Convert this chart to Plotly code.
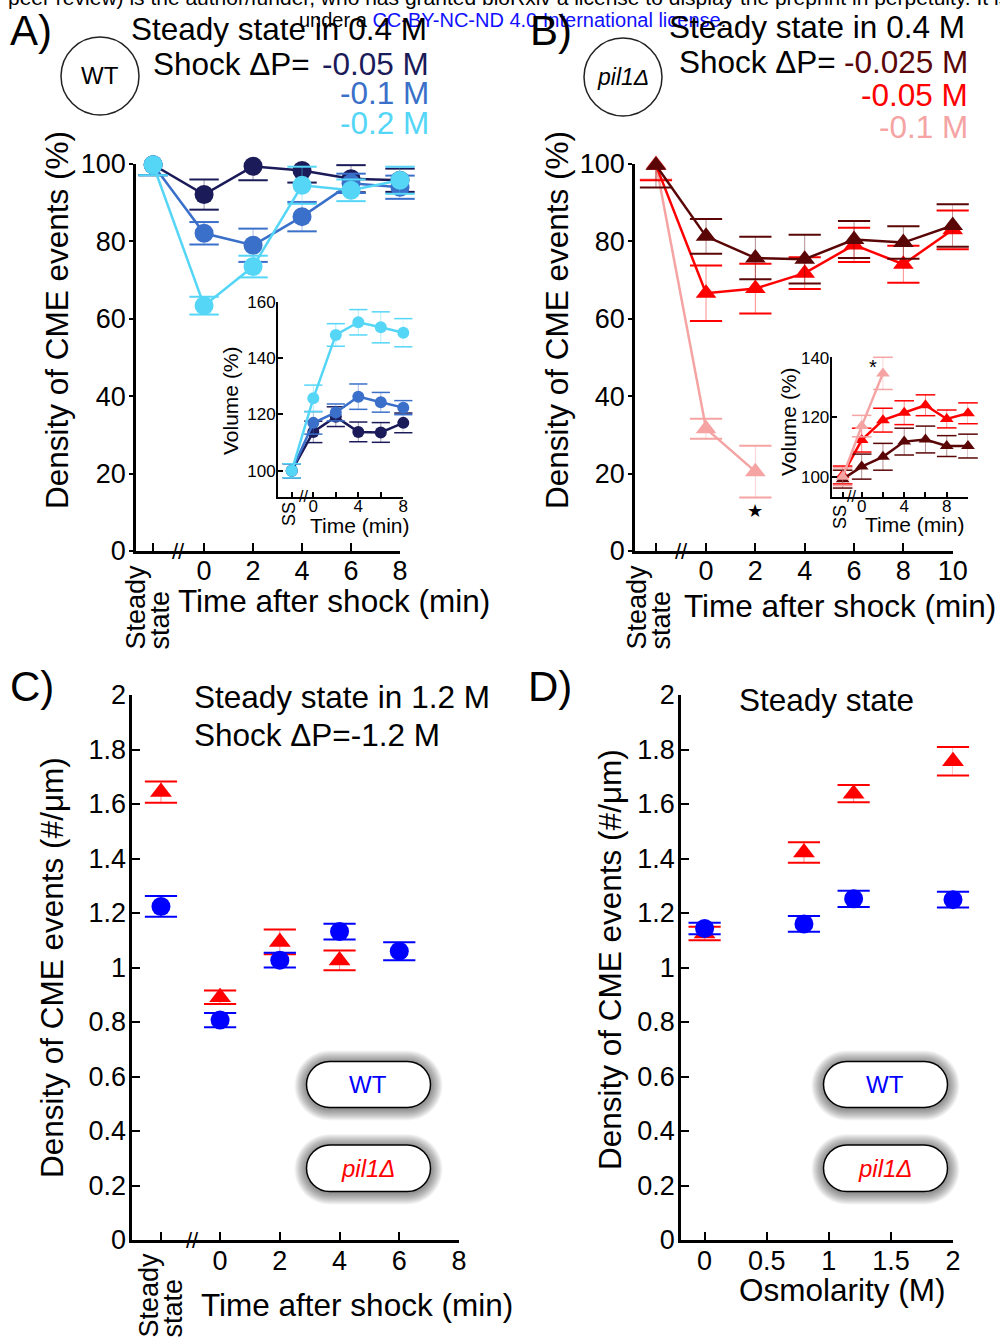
import plotly.graph_objects as go

W, H = 1000, 1338
FONT = "Liberation Sans, Arial, Helvetica, sans-serif"
SS = "Steady state"

# ---------------- DATA ----------------
# Panel A (WT) - density of CME events (%) after hypo-osmotic shock
a_time = [SS, 0, 2, 4, 6, 8]
a_m005 = [99.8, 92.1, 99.4, 98.3, 96.2, 95.8]
a_m005_err = [2.7, 3.9, 3.6, 3.1, 3.5, 3.0]
a_m01 = [99.8, 82.1, 79.0, 86.4, 95.0, 94.0]
a_m01_err = [2.7, 2.9, 4.3, 3.8, 2.5, 3.0]
a_m02 = [99.8, 63.4, 73.5, 94.5, 93.2, 95.8]
a_m02_err = [2.7, 2.3, 2.8, 4.8, 2.8, 3.5]

# Panel A inset (WT) - volume (%)
ai_time = [SS, 0, 2, 4, 6, 8]
ai_m005 = [100.0, 113.8, 119.2, 113.8, 113.6, 117.0]
ai_m005_err = [2.5, 3.8, 3.5, 3.5, 3.5, 3.5]
ai_m01 = [100.0, 117.0, 120.7, 126.3, 124.3, 122.4]
ai_m01_err = [2.5, 4.0, 3.0, 4.5, 3.5, 2.5]
ai_m02 = [100.0, 125.7, 148.2, 152.7, 150.9, 149.0]
ai_m02_err = [2.5, 4.7, 4.0, 4.5, 5.5, 5.0]

# Panel B (pil1Δ) - density of CME events (%)
b_time = [SS, 0, 2, 4, 6, 8, 10]
b_m0025 = [99.7, 81.3, 75.7, 75.4, 80.5, 79.7, 84.1]
b_m0025_err = [5.8, 4.5, 5.5, 6.3, 4.8, 4.2, 5.5]
b_m005 = [99.7, 66.6, 67.8, 71.8, 79.1, 74.1, 83.0]
b_m005_err = [3.9, 7.2, 6.4, 4.1, 4.4, 4.8, 5.0]
b_time_m01 = [SS, 0, 2]
b_m01 = [100.0, 31.6, 20.5]
b_m01_err = [4.0, 2.6, 6.7]
b_star = [(2, 10.5)]

# Panel B inset (pil1Δ) - volume (%)
bi_time = [SS, 0, 2, 4, 6, 8, 10]
bi_m0025 = [99.2, 103.4, 106.7, 111.8, 112.5, 110.3, 110.3]
bi_m0025_err = [3.0, 4.2, 4.5, 4.5, 4.5, 3.5, 4.0]
bi_m005 = [100.6, 112.3, 119.0, 121.5, 124.0, 119.4, 121.3]
bi_m005_err = [3.0, 4.0, 4.0, 4.0, 3.5, 3.0, 3.5]
bi_time_m01 = [SS, 0, 2]
bi_m01 = [100.0, 117.0, 134.7]
bi_m01_err = [3.0, 3.6, 5.4]
bi_star = [(1.1, 137.0)]

# Panel C - density (#/µm), steady state in 1.2 M, shock -1.2 M
c_time_wt = [SS, 0, 2, 4, 6]
c_wt = [1.224, 0.807, 1.027, 1.132, 1.060]
c_wt_err = [0.038, 0.026, 0.027, 0.029, 0.033]
c_time_pil = [SS, 0, 2, 4]
c_pil = [1.644, 0.891, 1.094, 1.026]
c_pil_err = [0.039, 0.025, 0.045, 0.036]

# Panel D - steady-state density vs osmolarity
d_osm = [0, 0.8, 1.2, 2.0]
d_wt = [1.143, 1.160, 1.252, 1.249]
d_wt_err = [0.021, 0.029, 0.030, 0.029]
d_pil = [1.125, 1.422, 1.638, 1.757]
d_pil_err = [0.025, 0.038, 0.032, 0.052]

# Tick labels
pct_ticks = [0, 20, 40, 60, 80, 100]
dens_ticks = [0, 0.2, 0.4, 0.6, 0.8, 1, 1.2, 1.4, 1.6, 1.8, 2]
dens_ticktext = ["0", "0.2", "0.4", "0.6", "0.8", "1", "1.2", "1.4", "1.6", "1.8", "2"]
osm_ticks = [0, 0.5, 1, 1.5, 2]
osm_ticktext = ["0", "0.5", "1", "1.5", "2"]

# ---------------- STYLE ----------------
NAVY = "#1b1b5a"
MID = "#3a70c9"
CYAN = "#55d6f7"
MAROON = "#5a0606"
RED = "#ff0000"
PINK = "#f5a3a3"
BLUE = "#0000ff"

# position of the "steady state" category on each time axis
SS_POS = {"x": -2.08, "x2": -1.92, "x3": -2.03, "x4": -1.79, "x5": -1.98}
BREAK_POS = {"x": -1.06, "x2": -0.83, "x3": -1.01, "x4": -0.94, "x5": -0.94}


def rgba(hexc, a):
    h = hexc.lstrip("#")
    r, g, b = int(h[0:2], 16), int(h[2:4], 16), int(h[4:6], 16)
    return f"rgba({r},{g},{b},{a})"


def py2paper(py):
    return 1 - py / H


fig = go.Figure()


def series(xref, yref, t, y, e, color, symbol, size, capsize, lines=True, lw=2.5, capw=2):
    xs = [SS_POS[xref] if v == SS else v for v in t]
    fig.add_trace(go.Scatter(
        x=xs, y=y, xaxis=xref, yaxis=yref,
        mode="lines+markers" if lines else "markers",
        line=dict(color=color, width=lw),
        marker=dict(color=color, symbol=symbol, size=size, line=dict(width=0)),
        error_y=dict(type="data", array=e, width=0, thickness=1, color=rgba(color, 0.45)),
        cliponaxis=False, hoverinfo="skip", showlegend=False))
    fig.add_trace(go.Scatter(
        x=xs + xs,
        y=[a + b for a, b in zip(y, e)] + [a - b for a, b in zip(y, e)],
        xaxis=xref, yaxis=yref, mode="markers",
        marker=dict(symbol="line-ew", size=capsize, color=color, line=dict(color=color, width=capw)),
        cliponaxis=False, hoverinfo="skip", showlegend=False))


# Panel A main
series("x", "y", a_time, a_m005, a_m005_err, NAVY, "circle", 19, 21)
series("x", "y", a_time, a_m01, a_m01_err, MID, "circle", 19, 21)
series("x", "y", a_time, a_m02, a_m02_err, CYAN, "circle", 19, 21)
# Panel A inset
series("x2", "y2", ai_time, ai_m005, ai_m005_err, NAVY, "circle", 12, 13, lw=2.5, capw=1.5)
series("x2", "y2", ai_time, ai_m01, ai_m01_err, MID, "circle", 12, 13, lw=2.5, capw=1.5)
series("x2", "y2", ai_time, ai_m02, ai_m02_err, CYAN, "circle", 12, 13, lw=2.5, capw=1.5)
# Panel B main
series("x3", "y3", b_time_m01, b_m01, b_m01_err, PINK, "triangle-up", 18, 23)
series("x3", "y3", b_time, b_m005, b_m005_err, RED, "triangle-up", 18, 23)
series("x3", "y3", b_time, b_m0025, b_m0025_err, MAROON, "triangle-up", 18, 23)
# Panel B inset
series("x4", "y4", bi_time, bi_m005, bi_m005_err, RED, "triangle-up", 12, 14, lw=2.5, capw=1.5)
series("x4", "y4", bi_time, bi_m0025, bi_m0025_err, MAROON, "triangle-up", 12, 14, lw=2.5, capw=1.5)
series("x4", "y4", bi_time_m01, bi_m01, bi_m01_err, PINK, "triangle-up", 12, 14, lw=2.5, capw=1.5)
# Panel C
series("x5", "y5", c_time_pil, c_pil, c_pil_err, RED, "triangle-up", 19, 23, lines=False)
series("x5", "y5", c_time_wt, c_wt, c_wt_err, BLUE, "circle", 19, 23, lines=False)


# Panel D
def series_d(x, y, e, color, symbol):
    fig.add_trace(go.Scatter(
        x=x, y=y, xaxis="x6", yaxis="y6", mode="markers",
        marker=dict(color=color, symbol=symbol, size=19),
        error_y=dict(type="data", array=e, width=0, thickness=1, color=rgba(color, 0.45)),
        cliponaxis=False, hoverinfo="skip", showlegend=False))
    fig.add_trace(go.Scatter(
        x=list(x) + list(x),
        y=[a + b for a, b in zip(y, e)] + [a - b for a, b in zip(y, e)],
        xaxis="x6", yaxis="y6", mode="markers",
        marker=dict(symbol="line-ew", size=23, color=color, line=dict(color=color, width=2)),
        cliponaxis=False, hoverinfo="skip", showlegend=False))


series_d(d_osm, d_pil, d_pil_err, RED, "triangle-up")
series_d(d_osm, d_wt, d_wt_err, BLUE, "circle")


# ---------------- AXES ----------------
def xaxis(dom, rng, anchor, tv, tt, size=27, lw=2.5, tl=8, so=-6):
    return dict(domain=dom, range=rng, anchor=anchor, showgrid=False, zeroline=False,
                showline=True, linecolor="black", linewidth=lw, ticks="inside", ticklen=tl,
                tickwidth=2, tickcolor="black", tickvals=tv, ticktext=tt, ticklabelstandoff=so,
                tickfont=dict(size=size, color="black", family=FONT), fixedrange=True)


def yaxis(dom, rng, anchor, tv, tt, size=27, lw=2.5, ticks="inside", tl=8, so=-2):
    return dict(domain=dom, range=rng, anchor=anchor, showgrid=False, zeroline=False,
                showline=True, linecolor="black", linewidth=lw, ticks=ticks, ticklen=tl,
                tickwidth=2, tickcolor="black", tickvals=tv, ticktext=tt, ticklabelstandoff=so,
                tickfont=dict(size=size, color="black", family=FONT), fixedrange=True)


def time_ticks(xref, times, labels=None):
    tv = [SS_POS[xref]] + list(times)
    tt = [""] + [str(t) if (labels is None or t in labels) else "" for t in times]
    return tv, tt


tvA, ttA = time_ticks("x", [0, 2, 4, 6, 8])
tvA2, ttA2 = time_ticks("x2", [0, 2, 4, 6, 8], labels=[0, 4, 8])
tvB, ttB = time_ticks("x3", [0, 2, 4, 6, 8, 10])
tvB2, ttB2 = time_ticks("x4", [0, 2, 4, 6, 8, 10], labels=[0, 4, 8])
tvC, ttC = time_ticks("x5", [0, 2, 4, 6, 8])

yA_dom = [py2paper(551), py2paper(164)]
yC_dom = [py2paper(1240), py2paper(695)]

fig.update_layout(
    width=W, height=H, autosize=False,
    margin=dict(l=0, r=0, t=0, b=0, pad=0, autoexpand=False),
    paper_bgcolor="white", plot_bgcolor="rgba(0,0,0,0)",
    font=dict(family=FONT, color="black"),
    hovermode=False, showlegend=False,
    xaxis=xaxis([0.136, 0.400], [-2.78, 8], "y", tvA, ttA),
    yaxis=yaxis(yA_dom, [0, 100], "x", pct_ticks, [str(v) for v in pct_ticks], ticks="outside", tl=4),
    xaxis2=xaxis([0.278, 0.4033], [-3.14, 8], "y2", tvA2, ttA2, size=17, lw=2, tl=5, so=-7),
    yaxis2=yaxis([py2paper(496.7), py2paper(301.7)], [90.8, 160], "x2",
                 [100, 120, 140, 160], ["100", "120", "140", "160"], size=17, lw=2, tl=5, so=-3),
    xaxis3=xaxis([0.635, 0.9527], [-2.88, 10], "y3", tvB, ttB),
    yaxis3=yaxis(yA_dom, [0, 100], "x3", pct_ticks, [str(v) for v in pct_ticks], ticks="outside", tl=4),
    xaxis4=xaxis([0.8317, 0.968], [-2.82, 10], "y4", tvB2, ttB2, size=17, lw=2, tl=5, so=-7),
    yaxis4=yaxis([py2paper(496.7), py2paper(356.7)], [93.3, 140.3], "x4",
                 [100, 120, 140], ["100", "120", "140"], size=17, lw=2, tl=5, so=-3),
    xaxis5=xaxis([0.1323, 0.459], [-2.94, 8], "y5", tvC, ttC, so=-5),
    yaxis5=yaxis(yC_dom, [0, 2], "x5", dens_ticks, dens_ticktext),
    xaxis6=xaxis([0.681, 0.953], [-0.19, 2.0], "y6", osm_ticks, osm_ticktext, so=-5),
    yaxis6=yaxis(yC_dom, [0, 2], "x6", dens_ticks, dens_ticktext),
)

# ---------------- ANNOTATIONS ----------------
ann = []


def txt(text, px, py, size, color="black", xanchor="center", yanchor="middle", angle=0):
    ann.append(dict(text=text, x=px / W, y=py2paper(py), xref="paper", yref="paper",
                    xanchor=xanchor, yanchor=yanchor, textangle=angle, showarrow=False,
                    font=dict(size=size, color=color, family=FONT)))


# watermark lines
txt("peer review) is the author/funder, who has granted bioRxiv a license to display the preprint in perpetuity. It is made available",
    6, -2, 21, xanchor="left")
txt("under a <span style='color:#1010ff'>CC-BY-NC-ND 4.0 International license</span>.", 297, 20, 20, xanchor="left")

# panel letters
txt("A)", 8, 31, 42, xanchor="left")
txt("B)", 528, 31, 42, xanchor="left")
txt("C)", 8, 686, 42, xanchor="left")
txt("D)", 526, 686, 42, xanchor="left")

# Panel A header
txt("Steady state in 0.4 M", 129, 29, 31.5, xanchor="left")
txt("Shock \u0394P=", 151, 64, 31.5, xanchor="left")
txt("-0.05 M", 431, 64, 31.5, NAVY, xanchor="right")
txt("-0.1 M", 431, 93, 31.5, MID, xanchor="right")
txt("-0.2 M", 431, 123, 31.5, CYAN, xanchor="right")
txt("WT", 100, 76, 24)

# Panel B header
txt("Steady state in 0.4 M", 667, 27, 31.5, xanchor="left")
txt("Shock \u0394P=", 677, 62, 31.5, xanchor="left")
txt("-0.025 M", 970, 62, 31.5, MAROON, xanchor="right")
txt("-0.05 M", 970, 95, 31.5, RED, xanchor="right")
txt("-0.1 M", 970, 127, 31.5, PINK, xanchor="right")
txt("<i>pil1\u0394</i>", 623, 77, 23)

# axis titles A/B
txt("Density of CME events (%)", 57, 320, 31.5, angle=-90)
txt("Density of CME events (%)", 557, 320, 31.5, angle=-90)
txt("Time after shock (min)", 334, 601, 31.5)
txt("Time after shock (min)", 840, 606, 31.5)
for sx, tx in [(135, 159), (636, 660)]:
    txt("Steady", sx, 652, 27, yanchor="bottom", angle=-90)
    txt("state", tx, 652, 27, yanchor="bottom", angle=-90)

# insets titles
txt("Volume (%)", 231, 401, 21, angle=-90)
txt("Time (min)", 360, 525, 21)
txt("SS", 289, 514, 18, angle=-90)
txt("Volume (%)", 788, 422, 21, angle=-90)
txt("Time (min)", 915, 524, 21)
txt("SS", 840, 517, 18, angle=-90)

# C and D texts
txt("Steady state in 1.2 M", 192, 697, 31.5, xanchor="left")
txt("Shock \u0394P=-1.2 M", 192, 735, 31.5, xanchor="left")
txt("Steady state", 826, 700, 31.5)
txt("Density of CME events (#/\u03bcm)", 52, 968, 31.5, angle=-90)
txt("Density of CME events (#/\u03bcm)", 610, 960, 31.5, angle=-90)
txt("Time after shock (min)", 357, 1305, 31.5)
txt("Osmolarity (M)", 842, 1290, 31.5)
txt("Steady", 148, 1340, 27, yanchor="bottom", angle=-90)
txt("state", 172, 1340, 27, yanchor="bottom", angle=-90)

# axis break marks
for xr, yr, base, sz in [("x", "y", 0, 22), ("x3", "y3", 0, 22), ("x5", "y5", 0, 22),
                         ("x2", "y2", 90.8, 16), ("x4", "y4", 93.3, 16)]:
    ann.append(dict(text="//", x=BREAK_POS[xr], y=base, xref=xr, yref=yr, showarrow=False,
                    xanchor="center", yanchor="middle",
                    font=dict(size=sz, color="black", family=FONT)))

# significance stars
for (sx, sy) in b_star:
    ann.append(dict(text="\u2605", x=sx, y=sy, xref="x3", yref="y3", showarrow=False,
                    font=dict(size=18, color="black", family="DejaVu Sans")))
for (sx, sy) in bi_star:
    ann.append(dict(text="*", x=sx, y=sy, xref="x4", yref="y4", showarrow=False,
                    font=dict(size=20, color="black", family=FONT)))

# legend pills text
for cx in (368, 885):
    txt("WT", cx, 1084, 24, BLUE)
    txt("<i>pil1\u0394</i>", cx, 1168, 24, RED)

fig.update_layout(annotations=ann)

# ---------------- SHAPES ----------------
shapes = []


def circle(cx, cy, r):
    shapes.append(dict(type="circle", xref="paper", yref="paper",
                       x0=(cx - r) / W, x1=(cx + r) / W, y0=py2paper(cy + r), y1=py2paper(cy - r),
                       line=dict(color="#222222", width=1.5), fillcolor="rgba(0,0,0,0)"))


circle(100, 76, 39)
circle(623, 77, 39)


def pill_path(x0, y0, x1, y1):
    r = (y1 - y0) / 2
    k = 0.5523 * r
    ym = (y0 + y1) / 2
    pts = [
        ("M", [(x0 + r, y0)]),
        ("L", [(x1 - r, y0)]),
        ("C", [(x1 - r + k, y0), (x1, ym - k), (x1, ym)]),
        ("C", [(x1, ym + k), (x1 - r + k, y1), (x1 - r, y1)]),
        ("L", [(x0 + r, y1)]),
        ("C", [(x0 + r - k, y1), (x0, ym + k), (x0, ym)]),
        ("C", [(x0, ym - k), (x0 + r - k, y0), (x0 + r, y0)]),
    ]
    s = ""
    for cmd, ps in pts:
        s += cmd + " ".join(f"{px / W:.5f},{py2paper(py):.5f}" for px, py in ps)
    return s + "Z"


def pill(x0, y0, x1, y1):
    for e in range(12, 0, -1):
        shapes.append(dict(type="path", xref="paper", yref="paper",
                           path=pill_path(x0 - e, y0 - e + 1, x1 + e, y1 + e + 1),
                           fillcolor="rgba(0,0,0,0.042)", line=dict(width=0)))
    shapes.append(dict(type="path", xref="paper", yref="paper",
                       path=pill_path(x0, y0, x1, y1),
                       fillcolor="white", line=dict(color="black", width=1.5)))


for px0 in (306.5, 823.5):
    pill(px0, 1061.5, px0 + 124, 1107.5)
    pill(px0, 1145, px0 + 124, 1191.5)

fig.update_layout(shapes=shapes)

fig.write_html("out.html")
